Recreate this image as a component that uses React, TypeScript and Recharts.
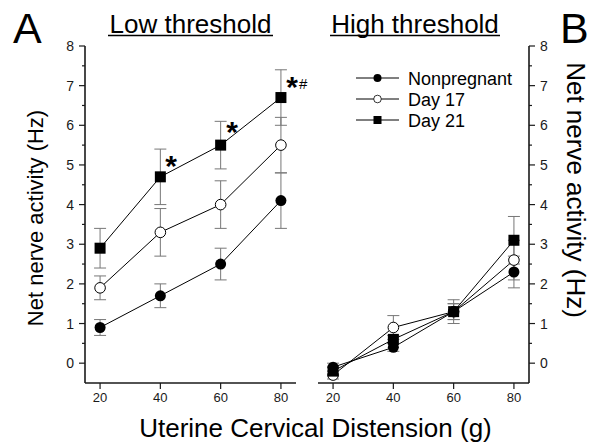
import React from "react";
import { LineChart, Line, XAxis, YAxis, ErrorBar } from "recharts";

const distension = [20, 40, 60, 80];
const xTicks = [20, 40, 60, 80];
const yTicks = [0, 1, 2, 3, 4, 5, 6, 7, 8];
const yMinorTicks = [0.5, 1.5, 2.5, 3.5, 4.5, 5.5, 6.5, 7.5];

// low threshold panel (A)
const lowNonpregnant = [0.9, 1.7, 2.5, 4.1];
const lowNonpregnantSem = [0.2, 0.3, 0.4, 0.7];
const lowDay17 = [1.9, 3.3, 4.0, 5.5];
const lowDay17Sem = [0.3, 0.6, 0.6, 0.7];
const lowDay21 = [2.9, 4.7, 5.5, 6.7];
const lowDay21Sem = [0.5, 0.7, 0.6, 0.7];

// high threshold panel (B)
const highNonpregnant = [-0.1, 0.4, 1.3, 2.3];
const highNonpregnantSem = [0.1, 0.1, 0.3, 0.4];
const highDay17 = [-0.3, 0.9, 1.3, 2.6];
const highDay17Sem = [0.1, 0.3, 0.2, 0.5];
const highDay21 = [-0.2, 0.6, 1.3, 3.1];
const highDay21Sem = [0.1, 0.1, 0.2, 0.6];

const seriesNames = ["Nonpregnant", "Day 17", "Day 21"];

const FONT = '"Liberation Sans", Arial, Helvetica, sans-serif';
const INK = "#1a1a1a";
const TICK_SIZE = 6;
const TICK_MARGIN = 5;

type Row = {
  x: number;
  np: number;
  npErr: number;
  d17: number;
  d17Err: number;
  d21: number;
  d21Err: number;
};

function buildRows(
  np: number[],
  npErr: number[],
  d17: number[],
  d17Err: number[],
  d21: number[],
  d21Err: number[]
): Row[] {
  return distension.map((x, i) => ({
    x,
    np: np[i],
    npErr: npErr[i],
    d17: d17[i],
    d17Err: d17Err[i],
    d21: d21[i],
    d21Err: d21Err[i],
  }));
}

const lowRows = buildRows(
  lowNonpregnant,
  lowNonpregnantSem,
  lowDay17,
  lowDay17Sem,
  lowDay21,
  lowDay21Sem
);
const highRows = buildRows(
  highNonpregnant,
  highNonpregnantSem,
  highDay17,
  highDay17Sem,
  highDay21,
  highDay21Sem
);

const allYTicks = [...yTicks, ...yMinorTicks].sort((a, b) => a - b);

function filledCircle(props: any) {
  if (props.cx == null || props.cy == null) return <g key={props.index} />;
  return <circle key={props.index} cx={props.cx} cy={props.cy} r={5.5} fill="#000" />;
}
function openCircle(props: any) {
  if (props.cx == null || props.cy == null) return <g key={props.index} />;
  return (
    <circle
      key={props.index}
      cx={props.cx}
      cy={props.cy}
      r={5.3}
      fill="#fff"
      stroke="#000"
      strokeWidth={1}
    />
  );
}
function filledSquare(props: any) {
  if (props.cx == null || props.cy == null) return <g key={props.index} />;
  return <rect key={props.index} x={props.cx - 5.5} y={props.cy - 5.5} width={11} height={11} fill="#000" />;
}

function makeYTick(side: "left" | "right") {
  return function YTick(props: any) {
    const { x, y, payload } = props;
    const v = payload.value as number;
    const major = Number.isInteger(v);
    const axisX = side === "left" ? x + TICK_MARGIN + TICK_SIZE : x - TICK_MARGIN - TICK_SIZE;
    const dir = side === "left" ? -1 : 1;
    const len = major ? TICK_SIZE : TICK_SIZE / 2;
    return (
      <g>
        <line x1={axisX} x2={axisX + dir * len} y1={y} y2={y} stroke={INK} strokeWidth={1.2} />
        {major && (
          <text
            x={x}
            y={y}
            dy="0.36em"
            textAnchor={side === "left" ? "end" : "start"}
            fontSize={14}
            fontFamily={FONT}
            fill={INK}
          >
            {v}
          </text>
        )}
      </g>
    );
  };
}

function Panel({ rows, side }: { rows: Row[]; side: "left" | "right" }) {
  const margin =
    side === "left"
      ? { top: 46, right: 4, bottom: 31, left: 45 }
      : { top: 46, right: 32, bottom: 31, left: 18 };
  return (
    <LineChart width={side === "left" ? 300 : 301} height={444} data={rows} margin={margin}>
      <XAxis
        dataKey="x"
        type="number"
        domain={[15, 85]}
        ticks={xTicks}
        interval={0}
        height={30}
        tickSize={TICK_SIZE}
        tickMargin={4}
        axisLine={{ stroke: INK, strokeWidth: 1.6 }}
        tickLine={{ stroke: INK, strokeWidth: 1.2 }}
        tick={{ fontSize: 13, fill: INK, fontFamily: FONT }}
      />
      <YAxis
        orientation={side}
        type="number"
        domain={[-0.5, 8]}
        ticks={allYTicks}
        interval={0}
        width={40}
        tickSize={TICK_SIZE}
        tickMargin={TICK_MARGIN}
        tickLine={false}
        axisLine={{ stroke: INK, strokeWidth: 1.6 }}
        tick={makeYTick(side)}
      />
      <Line
        dataKey="d17"
        stroke="#000"
        strokeWidth={1}
        dot={openCircle}
        activeDot={false}
        isAnimationActive={false}
      >
        <ErrorBar dataKey="d17Err" width={6} stroke="#777" strokeWidth={1} direction="y" />
      </Line>
      <Line
        dataKey="np"
        stroke="#000"
        strokeWidth={1}
        dot={filledCircle}
        activeDot={false}
        isAnimationActive={false}
      >
        <ErrorBar dataKey="npErr" width={6} stroke="#777" strokeWidth={1} direction="y" />
      </Line>
      <Line
        dataKey="d21"
        stroke="#000"
        strokeWidth={1}
        dot={filledSquare}
        activeDot={false}
        isAnimationActive={false}
      >
        <ErrorBar dataKey="d21Err" width={6} stroke="#777" strokeWidth={1} direction="y" />
      </Line>
    </LineChart>
  );
}

function Overlay() {
  const legendRows = [78, 99, 120];
  return (
    <svg
      width={601}
      height={444}
      style={{ position: "absolute", left: 0, top: 0, pointerEvents: "none" }}
      fontFamily={FONT}
      fill="#000"
    >
      <text x={13} y={43} fontSize={43}>A</text>
      <text x={560} y={43} fontSize={43}>B</text>

      <text x={190.5} y={33} fontSize={26} textAnchor="middle">Low threshold</text>
      <line x1={108} x2={273} y1={35.5} y2={35.5} stroke="#000" strokeWidth={1.6} />
      <text x={415} y={33} fontSize={26} textAnchor="middle">High threshold</text>
      <line x1={330} x2={500} y1={35.5} y2={35.5} stroke="#000" strokeWidth={1.6} />

      <text transform="translate(43,218) rotate(-90)" fontSize={22} textAnchor="middle">
        Net nerve activity (Hz)
      </text>
      <text transform="translate(567,190) rotate(90)" fontSize={26} textAnchor="middle">
        Net nerve activity (Hz)
      </text>
      <text x={315.5} y={437} fontSize={26} textAnchor="middle">
        Uterine Cervical Distension (g)
      </text>

      <text x={171} y={176} fontSize={30} fontWeight="bold" textAnchor="middle">*</text>
      <text x={232} y={142} fontSize={30} fontWeight="bold" textAnchor="middle">*</text>
      <text x={292} y={97} fontSize={30} fontWeight="bold" textAnchor="middle">*</text>
      <text x={299} y={89} fontSize={15}>#</text>

      {seriesNames.map((name, i) => {
        const y = legendRows[i];
        return (
          <g key={name}>
            <line x1={356} x2={399} y1={y} y2={y} stroke="#000" strokeWidth={1} />
            {i === 0 && <circle cx={377.5} cy={y} r={4} fill="#000" />}
            {i === 1 && <circle cx={377.5} cy={y} r={3.8} fill="#fff" stroke="#000" strokeWidth={0.8} />}
            {i === 2 && <rect x={373.5} y={y - 4} width={8} height={8} fill="#000" />}
            <text x={408} y={y + 6.5} fontSize={18}>{name}</text>
          </g>
        );
      })}
    </svg>
  );
}

export default function App() {
  return (
    <div
      style={{
        position: "absolute",
        left: 0,
        top: 0,
        width: 601,
        height: 444,
        background: "#fff",
        overflow: "hidden",
      }}
    >
      <div style={{ position: "absolute", left: 0, top: 0 }}>
        <Panel rows={lowRows} side="left" />
      </div>
      <div style={{ position: "absolute", left: 300, top: 0 }}>
        <Panel rows={highRows} side="right" />
      </div>
      <Overlay />
    </div>
  );
}
